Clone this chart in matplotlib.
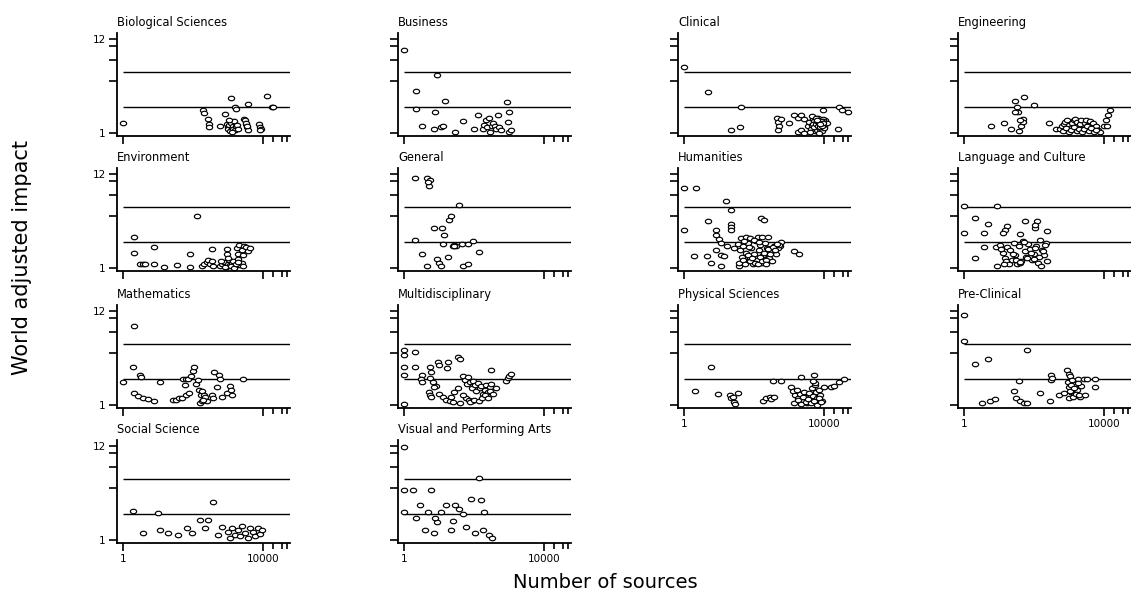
import matplotlib
matplotlib.use('Agg')
import matplotlib.pyplot as plt
from matplotlib.markers import MarkerStyle
from matplotlib.ticker import FixedLocator, NullLocator
from matplotlib.transforms import Affine2D, ScaledTranslation

# number of sources (x) and world adjusted impact (y), one pair of lists per field
bio_x = [1, 195, 210, 280, 290, 300, 600, 840, 1230,
         935, 1000, 1050, 1100, 1170, 1250, 1300, 1380, 1450, 1550, 1620, 1700, 1800, 2000, 1100, 1300,
         1620, 1750, 3900,
         3000, 3200, 3400, 3600, 3800, 3300, 3500,
         8000, 8500, 9000, 8300, 13500, 18200, 19500]
bio_y = [1.30, 1.82, 1.70, 1.46, 1.28, 1.17, 1.22, 1.67, 2.55,
         1.28, 1.18, 1.10, 1.24, 1.05, 1.32, 1.15, 1.22, 1.10, 1.38, 1.08, 1.20, 1.25, 1.12, 1.42, 1.02,
         2.0, 1.9, 2.18,
         1.46, 1.40, 1.28, 1.17, 1.08, 1.32, 1.22,
         1.28, 1.17, 1.10, 1.08, 2.64, 2.0, 2.0]

bus_x = [1, 9, 2.2, 2.2, 15.5, 7.9, 3.3, 7.5, 12, 13, 30, 50, 130, 105,
         180, 200, 220, 245, 270, 300, 330, 365, 400, 440, 490, 540, 600,
         870, 1050, 930, 1050, 1150]
bus_y = [8.9, 4.6, 3.04, 1.9, 2.33, 1.74, 1.22, 1.12, 1.17, 1.22, 1.03, 1.37, 1.60, 1.12,
         1.12, 1.25, 1.40, 1.17, 1.50, 1.03, 1.22, 1.32, 1.20, 1.12, 1.60, 1.17, 1.07,
         2.27, 1.74, 1.34, 1.03, 1.07]

cli_x = [1, 4.85, 43, 22, 42, 460, 500, 540, 500, 600, 1050, 1450, 1900, 2300, 2800, 1900, 2300, 2800,
         3500, 3800, 4200, 4600, 5000, 5500, 6000, 6500, 7000, 7500, 8000, 8500, 9000, 10000, 11000, 12000,
         4000, 4500, 5200, 5800, 6300, 6800, 7300, 7800, 8200, 8700, 9300, 10500, 4800, 6100, 7100, 9600,
         5400, 5900, 6400, 6900, 7400, 7900, 8400, 8900, 9800, 6600, 7600,
         9300, 28000, 49000, 25000, 33000]
cli_y = [5.75, 2.96, 2.0, 1.07, 1.17, 1.50, 1.34, 1.20, 1.07, 1.46, 1.30, 1.60, 1.50, 1.60, 1.46, 1.03, 1.07, 1.0,
         1.20, 1.35, 1.10, 1.25, 1.45, 1.05, 1.30, 1.15, 1.40, 1.22, 1.10, 1.35, 1.28, 1.18, 1.40, 1.30,
         1.02, 1.55, 1.38, 1.22, 1.08, 1.48, 1.33, 1.12, 1.25, 1.05, 1.45, 1.15, 1.28, 1.50, 1.0, 1.38,
         1.18, 1.26, 1.36, 1.20, 1.30, 1.16, 1.38, 1.22, 1.32, 1.42, 1.26,
         1.82, 2.0, 1.74, 1.12, 1.85]

eng_x = [6, 14.5, 22, 30, 33, 36, 30, 38, 44, 48, 51, 40, 52, 100, 270, 420,
         580, 650, 720, 800, 900, 1000, 1100, 1250, 1400, 1550, 1700, 1900, 2100, 2300, 2600, 2900, 3200,
         3600, 4000, 4500, 5000, 5600, 6200, 7000, 7800,
         700, 850, 1000, 1200, 1450, 1750, 2000, 2400, 2800, 3300, 3800, 4400, 5200, 6000,
         10000, 11500, 13000, 15000, 12000]
eng_y = [1.19, 1.30, 1.12, 2.35, 2.0, 1.74, 1.74, 1.05, 1.22, 1.45, 1.35, 1.40, 2.6, 2.08, 1.30, 1.12,
         1.10, 1.20, 1.28, 1.35, 1.42, 1.25, 1.15, 1.30, 1.40, 1.45, 1.35, 1.20, 1.28, 1.40, 1.12, 1.30, 1.42,
         1.25, 1.38, 1.18, 1.30, 1.12, 1.22, 1.08, 1.02,
         1.05, 1.15, 1.02, 1.08, 1.18, 1.05, 1.12, 1.02, 1.10, 1.20, 1.05, 1.15, 1.02, 1.08,
         1.22, 1.40, 1.60, 1.82, 1.19]

env_x = [2.1, 2.1, 3.1, 3.7, 4.4, 7.9, 7.9, 15, 36, 84, 84, 135,
         180, 210, 250, 280, 310, 350, 390, 360,
         940, 960,
         1800, 2100, 2500, 2900, 3300, 3800, 4400, 2000, 2700,
         600, 700, 800, 900, 1000, 1100, 1200, 1300, 1450, 1600, 1800, 2000, 2200, 2500, 2800,
         650, 850, 1050, 1250, 1500, 1700, 1950]
env_y = [2.25, 1.49, 1.12, 1.12, 1.12, 1.73, 1.12, 1.02, 1.09, 1.45, 1.02, 4.0,
         1.06, 1.12, 1.18, 1.25, 1.10, 1.20, 1.06, 1.67,
         1.67, 1.46,
         1.70, 1.85, 1.60, 1.80, 1.75, 1.55, 1.72, 1.45, 1.40,
         1.05, 1.10, 1.18, 1.02, 1.12, 1.25, 1.08, 1.15, 1.20, 1.05, 1.12, 1.28, 1.08, 1.15, 1.05,
         1.20, 1.02, 1.30, 1.06, 1.00, 1.10, 1.18]

gen_x = [2.15, 4.6, 5.8, 5.2, 5.0, 37, 19.4, 22.5, 7.5, 12.5, 14, 2.15, 13, 25, 28, 32, 45, 67,
         98, 145, 3.3, 9, 10.5, 12, 19, 4.6, 48, 70, 28]
gen_y = [10.9, 11.0, 10.2, 8.7, 9.7, 5.35, 3.6, 3.93, 2.88, 2.88, 2.38, 2.12, 1.9, 1.78, 1.82, 1.80, 1.9, 1.9,
         2.03, 1.53, 1.45, 1.27, 1.14, 1.06, 1.33, 1.06, 1.06, 1.12, 1.80]

hum_x = [1, 2.25, 16, 22.5, 4.9, 22, 22, 22, 1, 162, 193, 8.4, 8.4, 10.4, 12, 17, 28, 8.4, 12, 14.5,
         2, 4.6, 6, 11.7, 39,
         43, 60, 80, 130, 170, 250, 600, 560, 480, 520, 1450, 2000,
         35, 40, 45, 50, 55, 62, 70, 78, 85, 95, 105, 115, 125, 140, 155, 170, 190, 210, 240, 270,
         300, 340, 380, 420,
         38, 48, 58, 68, 80, 92, 110, 130, 150, 175, 200, 230, 260, 300, 350, 400, 460, 52, 75, 100,
         145, 220]
hum_y = [8.3, 8.3, 5.85, 4.6, 3.44, 3.24, 2.97, 2.71, 2.76, 3.76, 3.6, 2.76, 2.42, 2.16, 1.94, 1.81, 1.70,
         1.63, 1.42, 1.36, 1.39, 1.39, 1.14, 1.06, 1.06,
         2.2, 2.3, 2.2, 2.3, 2.3, 2.3, 2.0, 1.77, 1.70, 1.85, 1.55, 1.46,
         1.90, 1.60, 1.35, 1.80, 1.20, 1.50, 1.95, 1.30, 1.70, 1.10, 1.45, 2.05, 1.25, 1.60, 1.85, 1.15,
         1.40, 1.95, 1.70, 1.30, 1.55, 1.20, 1.80, 1.45,
         1.15, 1.25, 1.10, 1.40, 1.20, 1.30, 1.15, 1.10, 1.35, 1.20, 1.50, 1.25, 1.65, 1.45, 1.75, 1.60,
         1.90, 2.05, 1.75, 2.10, 2.00, 1.12]

lan_x = [1, 9, 2.15, 1, 3.7, 4.8, 17, 15, 13, 58, 125, 110, 110, 240, 42, 2.15, 3.7, 8.3,
         11, 13, 15, 17, 19, 21, 24, 27, 30, 34, 38, 43, 48, 55, 62, 70, 80, 90, 100, 115, 130, 150,
         170, 195, 220, 240,
         12, 16, 20, 25, 32, 40, 52, 65, 85, 110, 140, 180, 210,
         9, 14, 40, 100, 165]
lan_y = [5.2, 5.2, 3.76, 2.53, 2.53, 3.24, 3.08, 2.76, 2.53, 3.44, 3.44, 2.88, 3.1, 2.64, 2.46, 1.30, 1.74, 1.74,
         1.85, 1.50, 1.30, 1.75, 1.15, 1.60, 1.25, 1.95, 1.40, 1.10, 1.80, 1.20, 2.05, 1.55, 1.35, 1.90,
         1.65, 1.25, 1.45, 1.80, 1.15, 2.10, 1.60, 1.40, 1.95, 1.20,
         1.65, 1.20, 1.10, 1.45, 1.25, 1.15, 2.00, 1.30, 1.50, 1.70, 1.35, 1.55, 1.85,
         1.06, 1.12, 1.16, 1.27, 1.06]

mat_x = [2.15, 2, 3.1, 1, 11.6, 2.15, 2.8, 3.9, 5.4, 7.8, 3.3,
         28, 33, 40, 50, 65, 80,
         54, 60, 65, 75, 90, 100, 110, 125, 140, 155, 170, 190, 210, 230, 250, 165, 180, 200,
         400, 550, 620, 480, 350, 380, 700, 950, 1200, 1250, 1300, 2800]
mat_y = [8.2, 2.77, 2.22, 1.86, 1.86, 1.36, 1.27, 1.19, 1.16, 1.12, 2.08,
         1.14, 1.14, 1.19, 1.22, 1.30, 1.36,
         1.98, 1.70, 2.00, 1.98, 2.15, 2.45, 2.75, 1.75, 1.95, 1.50, 1.30, 1.45, 1.30, 1.25, 1.10, 1.05, 1.10, 1.15,
         2.40, 2.20, 2.00, 1.60, 1.30, 1.20, 1.25, 1.36, 1.65, 1.50, 1.32, 2.0]

mul_x = [1, 1, 2.1, 1, 1, 2.1, 1,
         3.3, 3.1, 3.4, 5.6, 6.2, 9.5, 10, 18.5, 17.5, 36, 42,
         5.6, 6.8, 8.5, 5.2, 5.6, 6.2, 7.5, 10.5, 13, 16.5, 21, 26, 22, 28, 36,
         50, 56, 63, 70, 78, 88, 98, 110, 120, 135, 150, 165, 185, 205, 230, 255, 285, 320, 310,
         840, 950, 1050, 1170, 62, 75, 90, 48,
         40, 80, 105, 140, 175, 210, 250, 300, 360, 430]
mul_y = [4.3, 3.76, 4.03, 2.71, 2.21, 2.71, 1.04,
         2.21, 2.0, 1.85, 2.71, 2.4, 3.1, 2.85, 3.1, 2.7, 3.6, 3.4,
         2.05, 1.85, 1.65, 1.40, 1.30, 1.25, 1.60, 1.35, 1.25, 1.15, 1.10, 1.08, 1.25, 1.40, 1.55,
         2.15, 1.95, 1.75, 2.10, 1.85, 1.55, 1.90, 1.70, 1.45, 1.80, 1.55, 1.65, 1.35, 1.50, 1.70, 1.40,
         1.60, 1.75, 2.55, 1.90, 2.05, 2.15, 2.25, 1.20, 1.15, 1.10, 1.30,
         1.05, 1.08, 1.15, 1.10, 1.20, 1.30, 1.20, 1.45, 1.35, 1.55]

phy_x = [2.15, 6, 9.4, 21, 23, 27, 25, 35, 30, 180, 230, 290, 320, 370, 350, 600, 2250, 5400,
         1200, 1350, 1500, 1700, 1900, 2100, 2400, 2700, 3000, 3300, 3700, 4100, 4500, 5000, 5500,
         6000, 6600, 7200, 8000, 9000, 10000,
         1400, 1800, 2200, 2600, 3100, 3600, 4300, 5200, 6300, 7500, 8500, 5800, 4800,
         16000, 20000, 28000, 37000]
phy_y = [1.45, 2.71, 1.33, 1.30, 1.19, 1.09, 1.25, 1.36, 1.04, 1.12, 1.19, 1.25, 1.16, 1.23, 1.9, 1.9, 2.08, 2.2,
         1.60, 1.45, 1.30, 1.50, 1.20, 1.35, 1.10, 1.42, 1.25, 1.05, 1.38, 1.15, 1.55, 1.28, 1.70,
         1.40, 1.20, 1.50, 1.32, 1.10, 1.60,
         1.05, 1.15, 1.02, 1.25, 1.08, 1.18, 1.05, 1.12, 1.00, 1.22, 1.08, 1.80, 1.90,
         1.62, 1.65, 1.85, 1.98]

pre_x = [1, 1, 2.15, 4.8, 65, 37, 27, 32, 40, 52, 65, 3.3, 5.5, 8, 155, 300, 310, 320, 330, 520, 720,
         900, 1000, 1120,
         950, 1050, 1150, 1250, 1400, 1550, 1700, 1900, 2100, 2300, 1000, 1100, 1200, 1300, 1450, 1600,
         1800, 2000,
         2700, 3300, 5800, 5500, 3000]
pre_y = [10.9, 5.4, 3.0, 3.38, 4.3, 1.9, 1.46, 1.19, 1.12, 1.05, 1.06, 1.05, 1.12, 1.16, 1.36, 1.12, 2.2,
         1.94, 2.05, 1.30, 1.36, 2.53, 2.3, 2.15,
         1.85, 1.60, 1.40, 1.95, 1.30, 1.75, 1.50, 2.0, 1.25, 1.65, 1.20, 1.45, 1.70, 1.25, 1.55, 1.35,
         1.80, 1.30,
         2.0, 2.0, 2.0, 1.6, 1.30]

soc_x = [2, 10, 3.8, 11.7, 20, 38, 69, 96, 160, 270, 380, 225, 530, 690, 1020, 1320, 1650, 2000,
         2600, 3200, 3900, 4400, 5400, 6100, 7400, 8400, 9600, 2250, 1150]
soc_y = [2.16, 2.05, 1.2, 1.3, 1.2, 1.14, 1.37, 1.2, 1.7, 1.7, 2.74, 1.37, 1.14, 1.41, 1.24, 1.37, 1.14, 1.3,
         1.45, 1.2, 1.05, 1.37, 1.24, 1.11, 1.37, 1.17, 1.3, 1.11, 1.05]

vis_x = [1, 1, 1.9, 6, 1, 3, 2.2, 5, 9, 4, 7.5, 12, 8, 30, 38, 140, 82, 160, 25, 200,
         22, 60, 110, 190, 270, 330, 16, 50]
vis_y = [11.7, 3.76, 3.76, 3.76, 2.1, 2.53, 1.79, 2.1, 1.6, 1.3, 1.2, 2.1, 1.8, 2.53, 2.3, 5.2, 3.0, 2.88, 1.65, 2.1,
         1.3, 1.4, 1.20, 1.30, 1.15, 1.05, 2.53, 2.0]

TITLES = ['Biological Sciences', 'Business', 'Clinical', 'Engineering',
          'Environment', 'General', 'Humanities', 'Language and Culture',
          'Mathematics', 'Multidisciplinary', 'Physical Sciences', 'Pre-Clinical',
          'Social Science', 'Visual and Performing Arts']
XS = [bio_x, bus_x, cli_x, eng_x, env_x, gen_x, hum_x, lan_x, mat_x, mul_x, phy_x, pre_x, soc_x, vis_x]
YS = [bio_y, bus_y, cli_y, eng_y, env_y, gen_y, hum_y, lan_y, mat_y, mul_y, phy_y, pre_y, soc_y, vis_y]

REF_LINES = [2, 5]
Y_TICKS = [1, 4, 7, 10, 12]
X_MAJOR = [1, 10000]
X_MINOR = [20000, 35000, 50000]
XLIM = (0.69, 60000)
YLIM = (0.924, 14.0)
BOTTOM_PANELS = {10, 11, 12, 13}

W, H = 1131, 598
COL_LEFT = [117, 398, 678, 958]
ROW_BOTTOM = [136, 271, 408, 543]
AX_W, AX_H = 173, 102.6

# slightly flattened open circle
OVAL = MarkerStyle('o', fillstyle='full', transform=Affine2D().scale(1.25, 0.9))

plt.rcParams['font.family'] = 'DejaVu Sans'
fig = plt.figure(figsize=(W / 100, H / 100), dpi=100)

for i, (title, xs, ys) in enumerate(zip(TITLES, XS, YS)):
    r, c = divmod(i, 4)
    ax = fig.add_axes([COL_LEFT[c] / W, 1 - ROW_BOTTOM[r] / H, AX_W / W, AX_H / H])
    ax.set_xscale('log')
    ax.set_yscale('log')
    ax.set_xlim(*XLIM)
    ax.set_ylim(*YLIM)
    ax.hlines(REF_LINES, 1, XLIM[1], color='black', lw=1.0, zorder=1)
    ax.plot(xs, ys, linestyle='none', marker=OVAL, ms=3.6, mfc='white', mec='black', mew=0.85,
            zorder=2, clip_on=False)

    for side in ('top', 'right'):
        ax.spines[side].set_visible(False)
    for side in ('left', 'bottom'):
        ax.spines[side].set_linewidth(1.3)

    ax.yaxis.set_major_locator(FixedLocator(Y_TICKS))
    ax.yaxis.set_minor_locator(NullLocator())
    if c == 0:
        ax.set_yticklabels(['1', '', '', '', '12'])
    else:
        ax.set_yticklabels([])

    ax.xaxis.set_major_locator(FixedLocator(X_MAJOR))
    ax.xaxis.set_minor_locator(FixedLocator(X_MINOR))
    if i in BOTTOM_PANELS:
        ax.set_xticklabels(['1', '10000'])
        for lab in ax.get_xticklabels():
            if lab.get_text() == '10000':
                lab.set_transform(lab.get_transform() + ScaledTranslation(7 / 72, 0, fig.dpi_scale_trans))
    else:
        ax.set_xticklabels([])
    ax.xaxis.set_minor_formatter(plt.NullFormatter())

    ax.tick_params(axis='both', which='major', length=6, width=1.2, labelsize=7.5, pad=2)
    ax.tick_params(axis='x', which='minor', length=4.5, width=1.2)

    ax.text(0.0, 1.11, title, transform=ax.transAxes, ha='left', va='center', fontsize=8.3)

fig.text(22 / W, 1 - 258 / H, 'World adjusted impact', rotation=90, ha='center', va='center', fontsize=15)
fig.text(605 / W, 1 - 583 / H, 'Number of sources', ha='center', va='center', fontsize=14)

fig.savefig('out.png', dpi=100)
